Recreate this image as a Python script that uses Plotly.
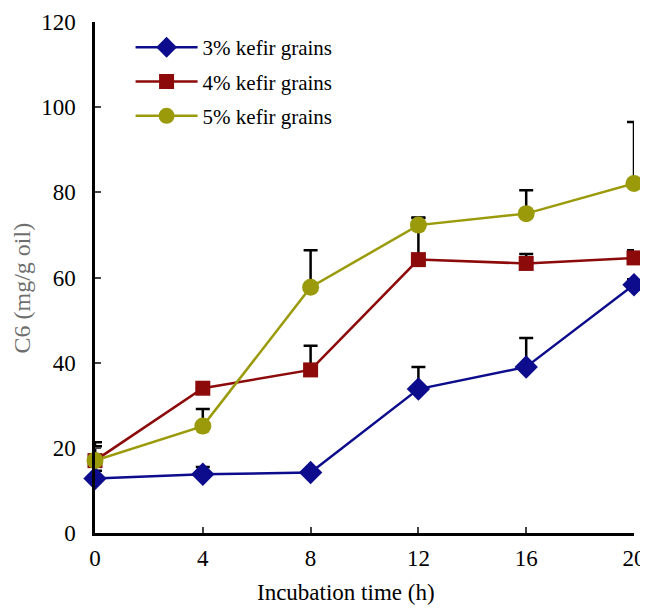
import plotly.graph_objects as go

time_h = [0, 4, 8, 12, 16, 20]
series_names = ["3% kefir grains", "4% kefir grains", "5% kefir grains"]
c6_3 = [12.8, 13.8, 14.2, 33.8, 39.0, 58.3]
c6_4 = [17.0, 34.0, 38.3, 64.2, 63.3, 64.6]
c6_5 = [17.0, 25.1, 57.7, 72.3, 75.0, 82.1]
err_3 = [1.8, 1.7, 0.0, 5.2, 6.8, 1.3]
err_4 = [4.3, 0.0, 5.7, 9.8, 2.2, 1.8]
err_5 = [3.4, 4.0, 8.7, 1.8, 5.5, 14.4]
x_ticks = [0, 4, 8, 12, 16, 20]
y_ticks = [0, 20, 40, 60, 80, 100, 120]

colors = ["#0c0c8c", "#8c0a0a", "#9a9a0a"]
symbols = ["diamond", "square", "circle"]
sizes = [18, 15, 17]
values = [c6_3, c6_4, c6_5]
errs = [err_3, err_4, err_5]

font_family = "Liberation Serif, Times New Roman, serif"

fig = go.Figure()
for i in range(3):
    fig.add_trace(go.Scatter(
        x=time_h, y=values[i], name=series_names[i],
        mode="lines+markers",
        line=dict(color=colors[i], width=2.5),
        marker=dict(symbol=symbols[i], size=sizes[i], color=colors[i]),
        error_y=dict(type="data", array=errs[i], arrayminus=[0] * 6, symmetric=False,
                     color="black", thickness=2.5, width=7),
        cliponaxis=False,
        legendgroup=str(i),
    ))

fig.update_layout(
    width=648, height=608,
    margin=dict(l=87, r=22, t=14, b=83, autoexpand=False),
    paper_bgcolor="white", plot_bgcolor="white",
    font=dict(family=font_family, color="black", size=23),
    showlegend=True,
    legend=dict(x=0.066, y=0.99, xanchor="left", yanchor="top",
                font=dict(size=21, family=font_family),
                bgcolor="rgba(0,0,0,0)", tracegroupgap=4, traceorder="grouped",
                itemwidth=62),
    xaxis=dict(range=[0, 20], tickvals=x_ticks, ticks="inside", ticklen=6, tickwidth=2,
               showline=True, linecolor="black", linewidth=2.5, showgrid=False, zeroline=False,
               tickfont=dict(size=23), ticklabelstandoff=3, automargin=False),
    yaxis=dict(range=[0, 120], tickvals=y_ticks, ticks="inside", ticklen=6, tickwidth=2,
               showline=True, linecolor="black", linewidth=2.5, showgrid=False, zeroline=False,
               tickfont=dict(size=23), ticklabelstandoff=12, automargin=False),
    annotations=[
        dict(text="Incubation time (h)", xref="paper", yref="paper", x=0.466, y=-0.089,
             xanchor="center", yanchor="top", showarrow=False, font=dict(size=23)),
        dict(text="C6 (mg/g oil)", xref="paper", yref="paper", x=-0.135, y=0.479,
             xanchor="center", yanchor="middle", textangle=-90, showarrow=False,
             font=dict(size=24, color="#6e6e6e")),
    ],
)

fig.write_html("out.html")
